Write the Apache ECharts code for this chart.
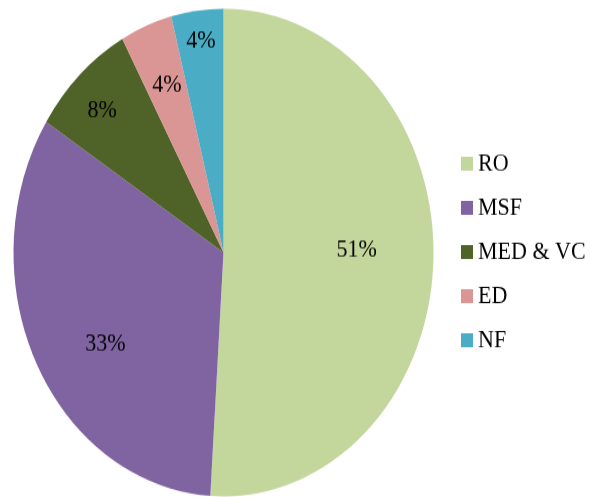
<!DOCTYPE html>
<html>
<head>
<meta charset="utf-8">
<script src="https://cdn.jsdelivr.net/npm/echarts@6/dist/echarts.min.js"></script>
<style>
html,body{margin:0;padding:0;background:#fff;width:590px;height:497px;overflow:hidden;}
#wrap{position:absolute;left:0;top:0;width:590px;height:428px;transform:scaleY(1.1612);transform-origin:0 0;}
#chart{width:590px;height:428px;}
</style>
</head>
<body>
<div id="wrap"><div id="chart"></div></div>
<script>
// Data
const categories = ['RO', 'MSF', 'MED & VC', 'ED', 'NF'];
const values = [51, 33, 8, 4, 4];
// Styles
const colors = ['#c3d69b', '#8064a2', '#4f6228', '#d99694', '#4bacc6'];
const labelRadius = [0.63, 0.67, 0.83, 0.745, 0.88];
const labelOffset = [[-2, -7], [10, 13], [0, 7], [2, 4], [1, 4]];

const R = 210;
const center = [223.5, 217.5];
const font = 'Liberation Serif, Times New Roman, serif';

const baseData = categories.map((name, i) => ({
  name: name,
  value: values[i],
  itemStyle: { color: colors[i] }
}));

const series = [{
  type: 'pie',
  radius: [0, R],
  center: center,
  startAngle: 90,
  clockwise: true,
  silent: true,
  label: { show: false },
  labelLine: { show: false },
  itemStyle: { borderWidth: 0 },
  data: baseData
}];

categories.forEach((cat, k) => {
  series.push({
    type: 'pie',
    radius: [(2 * labelRadius[k] - 1) * R, R],
    center: center,
    startAngle: 90,
    clockwise: true,
    silent: true,
    avoidLabelOverlap: false,
    labelLine: { show: false },
    itemStyle: { color: 'rgba(0,0,0,0)', borderWidth: 0 },
    data: categories.map((name, i) => ({
      name: name,
      value: values[i],
      label: {
        show: i === k,
        position: 'inside',
        formatter: '{c}%',
        offset: labelOffset[k],
        color: '#000',
        fontFamily: font,
        fontSize: 22
      }
    }))
  });
});

const chart = echarts.init(document.getElementById('chart'), null, { renderer: 'canvas' });
chart.setOption({
  animation: false,
  backgroundColor: '#fff',
  legend: {
    orient: 'vertical',
    left: 456,
    top: 125,
    itemWidth: 12,
    itemHeight: 12,
    itemGap: 16,
    icon: 'rect',
    data: categories,
    textStyle: { fontFamily: font, fontSize: 22, color: '#000' }
  },
  series: series
});
</script>
</body>
</html>
